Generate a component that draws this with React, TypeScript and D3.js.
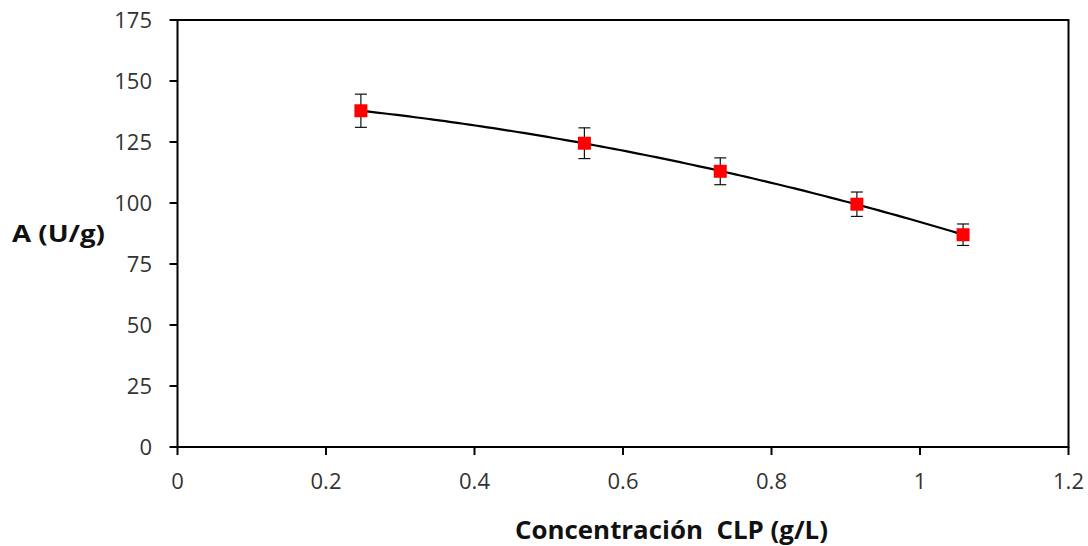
import React from "react";
import * as d3 from "d3";

const concentrations = [0.247, 0.548, 0.731, 0.915, 1.058];
const activity = [137.8, 124.5, 113.0, 99.5, 87.0];
const errors = [6.8, 6.3, 5.5, 5.0, 4.4];
const xTicks = [0, 0.2, 0.4, 0.6, 0.8, 1, 1.2];
const yTicks = [0, 25, 50, 75, 100, 125, 150, 175];

function quadFit(xs: number[], ys: number[]) {
  const s = Array(5).fill(0);
  const t = Array(3).fill(0);
  xs.forEach((x, i) => {
    for (let k = 0; k < 5; k++) s[k] += Math.pow(x, k);
    for (let k = 0; k < 3; k++) t[k] += ys[i] * Math.pow(x, k);
  });
  const M = [
    [s[0], s[1], s[2], t[0]],
    [s[1], s[2], s[3], t[1]],
    [s[2], s[3], s[4], t[2]],
  ];
  for (let i = 0; i < 3; i++) {
    for (let j = i + 1; j < 3; j++) {
      const f = M[j][i] / M[i][i];
      for (let k = i; k < 4; k++) M[j][k] -= f * M[i][k];
    }
  }
  const c = [0, 0, 0];
  for (let i = 2; i >= 0; i--) {
    let v = M[i][3];
    for (let k = i + 1; k < 3; k++) v -= M[i][k] * c[k];
    c[i] = v / M[i][i];
  }
  return (x: number) => c[0] + c[1] * x + c[2] * x * x;
}

export default function App() {
  const W = 1088, H = 546;
  const x = d3.scaleLinear().domain([0, 1.2]).range([177.5, 1068.5]);
  const y = d3.scaleLinear().domain([0, 175]).range([447, 20]);
  const fit = quadFit(concentrations, activity);
  const x0 = concentrations[0], x1 = concentrations[concentrations.length - 1];
  const curvePts = d3.range(0, 101).map((i) => {
    const xv = x0 + ((x1 - x0) * i) / 100;
    return [x(xv), y(fit(xv))] as [number, number];
  });
  const line = d3.line();
  const font = "'Open Sans', sans-serif";
  return (
    <svg width={W} height={H} style={{ position: "absolute", left: 0, top: 0, background: "#fff" }}>
      <rect x={0} y={0} width={W} height={H} fill="#fff" />
      <rect x={x(0)} y={y(175)} width={x(1.2) - x(0)} height={y(0) - y(175)} fill="none" stroke="#000" strokeWidth={2} />
      {yTicks.map((t) => (
        <g key={"y" + t}>
          <line x1={x(0) - 8} x2={x(0)} y1={y(t)} y2={y(t)} stroke="#000" strokeWidth={2} />
          <text x={152} y={y(t)} dy="0.36em" textAnchor="end" fontFamily={font} fontSize={22} fill="#333">{t}</text>
        </g>
      ))}
      {xTicks.map((t) => (
        <g key={"x" + t}>
          <line x1={x(t)} x2={x(t)} y1={y(0)} y2={y(0) + 8} stroke="#000" strokeWidth={2} />
          <text x={x(t)} y={489} textAnchor="middle" fontFamily={font} fontSize={22} fill="#333">{t}</text>
        </g>
      ))}
      <path d={line(curvePts) || ""} fill="none" stroke="#000" strokeWidth={2.2} />
      {concentrations.map((c, i) => (
        <g key={"p" + i}>
          <line x1={x(c)} x2={x(c)} y1={y(activity[i] - errors[i])} y2={y(activity[i] + errors[i])} stroke="#111" strokeWidth={1.2} />
          <line x1={x(c) - 6} x2={x(c) + 6} y1={y(activity[i] + errors[i])} y2={y(activity[i] + errors[i])} stroke="#111" strokeWidth={1.2} />
          <line x1={x(c) - 6} x2={x(c) + 6} y1={y(activity[i] - errors[i])} y2={y(activity[i] - errors[i])} stroke="#111" strokeWidth={1.2} />
          <rect x={x(c) - 6.5} y={y(activity[i]) - 6.5} width={13} height={13} fill="#ff0000" />
        </g>
      ))}
      <text x={12} y={242} fontFamily={font} fontWeight="bold" fontSize={24} fill="#111" textLength={93} lengthAdjust="spacingAndGlyphs">A (U/g)</text>
      <text x={515} y={539} fontFamily={font} fontWeight="bold" fontSize={24.5} fill="#111" textLength={313} lengthAdjust="spacingAndGlyphs" style={{ whiteSpace: "pre" }}>{"Concentración  CLP (g/L)"}</text>
    </svg>
  );
}
